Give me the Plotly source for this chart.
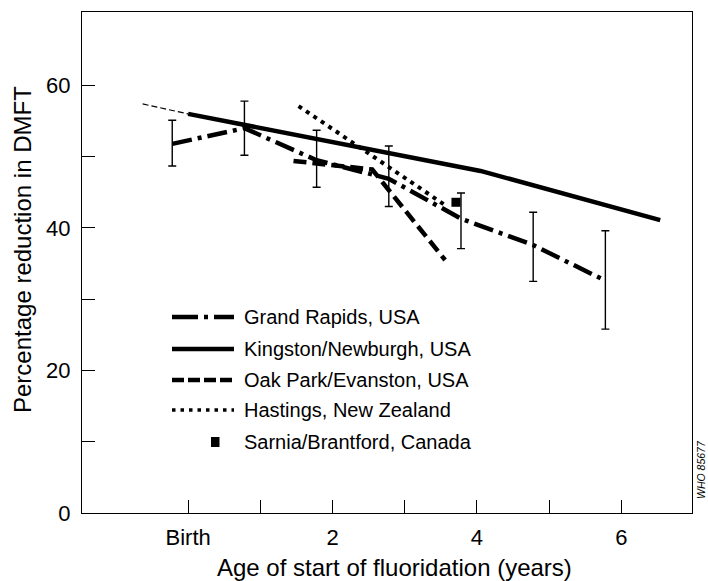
import plotly.graph_objects as go

# ---------------- data ----------------
gr_x = [-0.22, 0.78, 1.78, 2.78, 3.78, 4.78, 5.78]
gr_y = [51.8, 54.0, 49.5, 46.9, 41.3, 37.6, 32.6]
gr_hi = [55.1, 57.8, 53.7, 51.5, 44.9, 42.2, 39.6]
gr_lo = [48.7, 50.2, 45.7, 43.0, 37.1, 32.5, 25.8]

kn_x = [0.0, 4.05, 6.54]
kn_y = [56.0, 48.0, 41.1]
kn_ext_x = [-0.63, 0.0]
kn_ext_y = [57.4, 56.0]

op_x = [1.46, 2.55, 3.56]
op_y = [49.4, 48.2, 35.5]

ha_x = [1.53, 3.56]
ha_y = [57.1, 43.2]

sa_x = [3.71]
sa_y = [43.6]

x_tickvals = [0, 1, 2, 3, 4, 5, 6]
x_ticktext = ["Birth", "", "2", "", "4", "", "6"]
y_tickvals = [0, 10, 20, 30, 40, 50, 60]
y_ticktext = ["0", "", "20", "", "40", "", "60"]

series_names = ["Grand Rapids, USA", "Kingston/Newburgh, USA",
                "Oak Park/Evanston, USA", "Hastings, New Zealand",
                "Sarnia/Brantford, Canada"]

# ---------------- figure ----------------
FONT = "Liberation Sans, Arial, sans-serif"
W, H = 708, 581
L, R, T, B = 82, 16, 12, 68
PW, PH = W - L - R, H - T - B

def px2paper(px, py):
    return (px - L) / PW, (H - B - py) / PH

err_plus = [h - v for h, v in zip(gr_hi, gr_y)]
err_minus = [v - l for v, l in zip(gr_y, gr_lo)]

fig = go.Figure()
fig.add_trace(go.Scatter(
    x=gr_x, y=gr_y, mode="lines", name=series_names[0],
    line=dict(color="black", width=4.5, dash="20px,6px,4px,6px"),
    error_y=dict(type="data", symmetric=False, array=err_plus,
                 arrayminus=err_minus, color="black", thickness=1.4, width=4),
))
fig.add_trace(go.Scatter(
    x=kn_ext_x, y=kn_ext_y, mode="lines", showlegend=False,
    line=dict(color="black", width=1.2, dash="6px,3px"),
))
fig.add_trace(go.Scatter(
    x=kn_x, y=kn_y, mode="lines", name=series_names[1],
    line=dict(color="black", width=4.5),
))
fig.add_trace(go.Scatter(
    x=op_x, y=op_y, mode="lines", name=series_names[2],
    line=dict(color="black", width=4.5, dash="13px,6px"),
))
fig.add_trace(go.Scatter(
    x=ha_x, y=ha_y, mode="lines", name=series_names[3],
    line=dict(color="black", width=4, dash="4px,5px"),
))
fig.add_trace(go.Scatter(
    x=sa_x, y=sa_y, mode="markers", name=series_names[4],
    marker=dict(color="black", symbol="square", size=9),
))

# ---------------- manual legend ----------------
leg_x0, leg_x1, leg_text_x = 172, 234, 242
leg_rows = [317, 349, 380, 410, 442]
leg_styles = [
    dict(width=4.5, dash="26px,6px,4px,6px"),
    dict(width=4.5, dash="solid"),
    dict(width=4.5, dash="12px,4px"),
    dict(width=3.5, dash="3.5px,5px"),
    None,
]
shapes = []
annotations = []
for name, row, sty in zip(series_names, leg_rows, leg_styles):
    if sty is not None:
        xa, ya = px2paper(leg_x0, row)
        xb, _ = px2paper(leg_x1, row)
        shapes.append(dict(type="line", xref="paper", yref="paper",
                           x0=xa, x1=xb, y0=ya, y1=ya,
                           line=dict(color="black", **sty)))
    else:
        xa, ya = px2paper(211, row - 5)
        xb, yb = px2paper(219.5, row + 5)
        shapes.append(dict(type="rect", xref="paper", yref="paper",
                           x0=xa, x1=xb, y0=yb, y1=ya,
                           fillcolor="black", line=dict(width=0)))
    tx, ty = px2paper(leg_text_x, row)
    annotations.append(dict(text=name, xref="paper", yref="paper", x=tx, y=ty,
                            xanchor="left", yanchor="middle", showarrow=False,
                            font=dict(family=FONT, size=20, color="black")))

# axis titles and side note
xt, yt = px2paper(394, 567)
annotations.append(dict(text="Age of start of fluoridation (years)", xref="paper",
                        yref="paper", x=xt, y=yt, xanchor="center", yanchor="middle",
                        showarrow=False, font=dict(family=FONT, size=24, color="black")))
xt, yt = px2paper(22, 250)
annotations.append(dict(text="Percentage reduction in DMFT", xref="paper",
                        yref="paper", x=xt, y=yt, xanchor="center", yanchor="middle",
                        textangle=-90, showarrow=False,
                        font=dict(family=FONT, size=24, color="black")))
xt, yt = px2paper(701, 470)
annotations.append(dict(text="<i>WHO 85677</i>", xref="paper",
                        yref="paper", x=xt, y=yt, xanchor="center", yanchor="middle",
                        textangle=-90, showarrow=False,
                        font=dict(family=FONT, size=10.5, color="black")))

axis_common = dict(showline=True, mirror=True, linecolor="black", linewidth=1.4,
                   showgrid=False, zeroline=False, ticks="inside", ticklen=13,
                   tickwidth=1.4, tickcolor="black",
                   tickfont=dict(family=FONT, size=22, color="black"))

fig.update_layout(
    width=W, height=H,
    margin=dict(l=L, r=R, t=T, b=B, pad=0),
    paper_bgcolor="white", plot_bgcolor="white",
    showlegend=False,
    shapes=shapes, annotations=annotations,
    xaxis=dict(range=[-1.47, 6.98], tickmode="array", tickvals=x_tickvals,
               ticktext=x_ticktext, ticklabelstandoff=4, **axis_common),
    yaxis=dict(range=[0, 70.3], tickmode="array", tickvals=y_tickvals,
               ticktext=y_ticktext, ticklabelstandoff=6, **axis_common),
)

# the page's default body margin would shift the figure by 8 px
fig.write_html("out.html", config={"displayModeBar": False},
               post_script="document.body.style.margin='0';")
